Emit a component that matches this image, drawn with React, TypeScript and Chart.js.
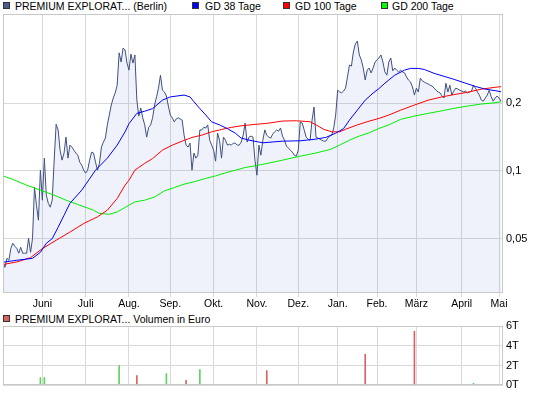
import React, { useEffect, useRef } from 'react';
import { Chart, registerables } from 'chart.js';

Chart.register(...registerables);

// ---------- DATA ----------
// trading-day index 0..253 (mid May .. start of May)
const closeValues = [
  0.0393, 0.0373, 0.0409, 0.0401, 0.0453, 0.0477, 0.0463, 0.0453, 0.0431, 0.0458,
  0.0431, 0.0431, 0.0431, 0.0502, 0.0435, 0.0502, 0.0846, 0.0704, 0.0604, 0.1007,
  0.0741, 0.1139, 0.0780, 0.0718, 0.0690, 0.0741, 0.1116, 0.161, 0.152, 0.1236,
  0.1116, 0.1199, 0.1412, 0.1139, 0.1301, 0.1275, 0.1236, 0.1199, 0.1174, 0.1093,
  0.1060, 0.1007, 0.0977, 0.1007, 0.1116, 0.1211, 0.1199, 0.1093, 0.1007, 0.1082,
  0.1275, 0.1342, 0.1398, 0.160, 0.177, 0.196, 0.2105, 0.222, 0.240, 0.334,
  0.304, 0.351, 0.344, 0.301, 0.280, 0.330, 0.301, 0.327, 0.206, 0.175,
  0.190, 0.172, 0.160, 0.1412, 0.156, 0.160, 0.172, 0.196, 0.213, 0.233,
  0.266, 0.228, 0.224, 0.215, 0.194, 0.177, 0.172, 0.165, 0.170, 0.172,
  0.170, 0.168, 0.1441, 0.1301, 0.1275, 0.1328, 0.1007, 0.1199, 0.1139, 0.1174,
  0.152, 0.152, 0.156, 0.155, 0.160, 0.1369, 0.1301, 0.1236, 0.1104, 0.1471,
  0.1369, 0.1139, 0.1412, 0.1369, 0.1301, 0.1314, 0.1301, 0.1328, 0.1328, 0.1301,
  0.1301, 0.1342, 0.1441, 0.163, 0.1342, 0.1412, 0.1427, 0.1412, 0.1116, 0.0957,
  0.1301, 0.1174, 0.1369, 0.152, 0.1441, 0.1412, 0.1398, 0.1456, 0.149, 0.152,
  0.150, 0.155, 0.1427, 0.1369, 0.1288, 0.1262, 0.1236, 0.1211, 0.1174, 0.1162,
  0.1236, 0.165, 0.163, 0.152, 0.1412, 0.1383, 0.1369, 0.168, 0.192, 0.1412,
  0.1398, 0.1383, 0.1369, 0.1355, 0.1355, 0.1398, 0.1427, 0.1441, 0.155, 0.177,
  0.228, 0.224, 0.222, 0.226, 0.233, 0.261, 0.295, 0.292, 0.337, 0.366,
  0.377, 0.327, 0.311, 0.286, 0.253, 0.280, 0.286, 0.272, 0.286, 0.304,
  0.311, 0.317, 0.327, 0.304, 0.275, 0.266, 0.304, 0.317, 0.278, 0.286,
  0.280, 0.275, 0.280, 0.275, 0.272, 0.261, 0.253, 0.248, 0.236, 0.217,
  0.233, 0.224, 0.258, 0.251, 0.248, 0.245, 0.243, 0.240, 0.238, 0.233,
  0.228, 0.224, 0.222, 0.215, 0.2105, 0.245, 0.224, 0.240, 0.217, 0.226,
  0.233, 0.231, 0.228, 0.226, 0.224, 0.226, 0.222, 0.224, 0.226, 0.240,
  0.233, 0.224, 0.217, 0.206, 0.204, 0.2105, 0.217, 0.228, 0.213, 0.204,
  0.2105, 0.215, 0.2105, 0.204,
];

const gd38Days = [0, 7, 15, 19, 22, 25, 28, 31, 34, 40, 47, 53, 58, 62, 64, 68, 72, 76, 81, 85, 92, 95, 97, 100, 103, 106, 110, 114, 118, 121, 125, 132, 142, 151, 158, 164, 169, 173, 176, 180, 184, 188, 191, 194, 199, 204, 207, 211, 214, 219, 224, 229, 235, 240, 245, 250, 253];
const gd38Values = [0.0393, 0.0401, 0.0409, 0.0435, 0.0477, 0.050, 0.0562, 0.0635, 0.0718, 0.0821, 0.1007, 0.1139, 0.1301, 0.149, 0.162, 0.180, 0.184, 0.189, 0.206, 0.213, 0.217, 0.213, 0.2027, 0.189, 0.177, 0.165, 0.160, 0.154, 0.147, 0.1398, 0.1369, 0.1332, 0.1355, 0.136, 0.138, 0.1408, 0.147, 0.154, 0.168, 0.186, 0.206, 0.2215, 0.232, 0.245, 0.266, 0.280, 0.285, 0.285, 0.282, 0.271, 0.263, 0.255, 0.245, 0.237, 0.2305, 0.227, 0.2245];

const gd100Days = [0, 7, 14, 20, 27, 34, 41, 48, 53, 58, 62, 64, 67, 72, 76, 81, 86, 91, 96, 101, 106, 111, 116, 121, 128, 134, 142, 149, 156, 159, 163, 167, 171, 174, 180, 185, 191, 196, 202, 209, 216, 223, 229, 236, 243, 250, 253];
const gd100Values = [0.0384, 0.0394, 0.0412, 0.0452, 0.0492, 0.0535, 0.0584, 0.0625, 0.0669, 0.0754, 0.0864, 0.0909, 0.1007, 0.108, 0.1134, 0.1236, 0.1301, 0.1355, 0.1407, 0.1441, 0.149, 0.1527, 0.156, 0.1585, 0.1608, 0.1625, 0.1664, 0.1669, 0.1652, 0.160, 0.1528, 0.149, 0.149, 0.153, 0.160, 0.1652, 0.171, 0.177, 0.186, 0.196, 0.206, 0.213, 0.218, 0.2233, 0.2305, 0.235, 0.2365];

const gd200Days = [0, 5, 12, 19, 26, 32, 39, 46, 49, 54, 58, 61, 64, 67, 72, 77, 82, 87, 92, 97, 103, 108, 113, 118, 123, 128, 134, 142, 151, 159, 166, 171, 176, 181, 186, 191, 196, 202, 209, 216, 223, 229, 236, 243, 250, 253];
const gd200Values = [0.0950, 0.0916, 0.0864, 0.0821, 0.0780, 0.0741, 0.0704, 0.0669, 0.0647, 0.0642, 0.0657, 0.068, 0.0704, 0.0728, 0.0741, 0.0766, 0.0815, 0.0843, 0.0873, 0.0894, 0.0926, 0.095, 0.098, 0.1007, 0.1035, 0.1052, 0.1078, 0.1116, 0.1162, 0.1201, 0.1243, 0.1301, 0.1369, 0.1427, 0.1476, 0.1543, 0.160, 0.1693, 0.175, 0.180, 0.1848, 0.1894, 0.194, 0.198, 0.2006, 0.2027];

const monthTickDays = [20, 42, 64, 85, 107, 129, 150, 170, 190, 210, 233, 252];
const monthTickLabels = ['Juni', 'Juli', 'Aug.', 'Sep.', 'Okt.', 'Nov.', 'Dez.', 'Jan.', 'Feb.', 'März', 'April', 'Mai'];
const priceTickValues = [0.05, 0.1, 0.2];

const volumeDays = [19, 21, 59, 68, 83, 93, 100, 134, 184, 209, 239];
const volumeValues = [800, 800, 2000, 1000, 1200, 500, 1600, 1500, 3130, 5450, 200];
const volumeUp = [true, true, true, false, true, false, true, false, false, false, true];
const volumeTickValues = [0, 2000, 4000, 6000];

const seriesLabels = ['PREMIUM EXPLORAT... (Berlin)', 'GD 38 Tage', 'GD 100 Tage', 'GD 200 Tage'];
const volumeLabel = 'PREMIUM EXPLORAT... Volumen in Euro';

// ---------- STYLE ----------
const FONT = '"Liberation Sans", Arial, Helvetica, sans-serif';
const GRID = '#d9d9d9';
const BORDER = '#c8c8c8';
const PRICE_COLOR = '#3f5080';
const COL38 = '#0000ff';
const COL100 = '#ff0000';
const COL200 = '#00ee00';
const UP = '#5fd35f';
const DOWN = '#d96464';
const X_MAX = 254;

const plotBorder = {
  id: 'plotBorder',
  afterDraw(chart: any) {
    const { ctx, chartArea: a } = chart;
    ctx.save();
    ctx.strokeStyle = BORDER;
    ctx.lineWidth = 1;
    ctx.strokeRect(Math.round(a.left) + 0.5, Math.round(a.top) + 0.5, Math.round(a.right - a.left) - 1, Math.round(a.bottom - a.top) - 1);
    ctx.restore();
  },
};

function xScale(showLabels: boolean) {
  return {
    type: 'linear' as const,
    min: 0,
    max: X_MAX,
    offset: false,
    afterBuildTicks: (s: any) => {
      s.ticks = monthTickDays.map((v) => ({ value: v }));
    },
    afterFit: (s: any) => {
      s.height = showLabels ? 19 : 0;
    },
    border: { display: false },
    grid: { color: GRID, drawTicks: showLabels, tickLength: 4, offset: false },
    ticks: {
      display: showLabels,
      autoSkip: false,
      maxRotation: 0,
      padding: 1,
      color: '#000',
      font: { family: FONT, size: 10.5 },
      callback: (_v: any, i: number) => monthTickLabels[i],
    },
  };
}

export default function App() {
  const mainRef = useRef<HTMLCanvasElement>(null);
  const volRef = useRef<HTMLCanvasElement>(null);

  useEffect(() => {
    const main = new Chart(mainRef.current!, {
      type: 'line',
      data: {
        datasets: [
          {
            label: seriesLabels[0],
            data: closeValues.map((v, i) => ({ x: i, y: v })),
            borderColor: PRICE_COLOR,
            borderWidth: 1,
            backgroundColor: 'rgba(100,130,210,0.10)',
            fill: 'start',
            pointRadius: 0,
            tension: 0,
            order: 4,
          },
          {
            label: seriesLabels[1],
            data: gd38Days.map((d, i) => ({ x: d, y: gd38Values[i] })),
            borderColor: COL38,
            borderWidth: 1,
            pointRadius: 0,
            fill: false,
            order: 1,
          },
          {
            label: seriesLabels[2],
            data: gd100Days.map((d, i) => ({ x: d, y: gd100Values[i] })),
            borderColor: COL100,
            borderWidth: 1,
            pointRadius: 0,
            fill: false,
            order: 2,
          },
          {
            label: seriesLabels[3],
            data: gd200Days.map((d, i) => ({ x: d, y: gd200Values[i] })),
            borderColor: COL200,
            borderWidth: 1,
            pointRadius: 0,
            fill: false,
            order: 3,
          },
        ],
      },
      options: {
        animation: false,
        responsive: false,
        devicePixelRatio: 1,
        events: [],
        layout: { padding: { left: 3, top: 14, right: 0, bottom: 0 } },
        plugins: { legend: { display: false }, tooltip: { enabled: false } },
        scales: {
          x: xScale(true) as any,
          y: {
            type: 'logarithmic',
            position: 'right',
            min: 0.0287,
            max: 0.497,
            afterBuildTicks: (s: any) => {
              s.ticks = priceTickValues.map((v) => ({ value: v }));
            },
            afterFit: (s: any) => {
              s.width = 42;
            },
            border: { display: false },
            grid: { color: GRID, drawTicks: false },
            ticks: {
              padding: 3,
              color: '#000',
              font: { family: FONT, size: 11 },
              callback: (v: any) => String(v).replace('.', ','),
            },
          } as any,
        },
      },
      plugins: [plotBorder],
    });

    const vol = new Chart(volRef.current!, {
      type: 'bar',
      data: {
        datasets: [
          {
            label: volumeLabel,
            data: volumeDays.map((d, i) => ({ x: d, y: volumeValues[i] })) as any,
            backgroundColor: volumeUp.map((u) => (u ? UP : DOWN)),
            barThickness: 1,
            borderWidth: 0,
          },
        ],
      },
      options: {
        animation: false,
        responsive: false,
        devicePixelRatio: 1,
        events: [],
        layout: { padding: { left: 3, top: 14, right: 0, bottom: 9 } },
        plugins: { legend: { display: false }, tooltip: { enabled: false } },
        scales: {
          x: xScale(false) as any,
          y: {
            type: 'linear',
            position: 'right',
            min: 0,
            max: 6000,
            afterBuildTicks: (s: any) => {
              s.ticks = volumeTickValues.map((v) => ({ value: v }));
            },
            afterFit: (s: any) => {
              s.width = 42;
            },
            border: { display: false },
            grid: { color: GRID, drawTicks: false },
            ticks: {
              padding: 3,
              color: '#000',
              font: { family: FONT, size: 11 },
              callback: (v: any) => `${Number(v) / 1000}T`,
            },
          } as any,
        },
      },
      plugins: [plotBorder],
    });

    return () => {
      main.destroy();
      vol.destroy();
    };
  }, []);

  const legendBoxes = [
    { color: '#4b5d8c', box: 3, text: 15 },
    { color: COL38, box: 192, text: 205 },
    { color: COL100, box: 283, text: 295 },
    { color: '#00ff00', box: 381, text: 392 },
  ];

  const textStyle: React.CSSProperties = {
    position: 'absolute',
    fontFamily: FONT,
    fontSize: 10.5,
    lineHeight: '12px',
    color: '#000',
    whiteSpace: 'nowrap',
  };
  const boxStyle = (left: number, top: number, color: string): React.CSSProperties => ({
    position: 'absolute',
    left,
    top,
    width: 7,
    height: 7,
    boxSizing: 'border-box',
    border: '1px solid #333',
    background: color,
  });

  return (
    <div style={{ position: 'absolute', left: 0, top: 0, width: 545, height: 395, background: '#fff', overflow: 'hidden' }}>
      {legendBoxes.map((b, i) => (
        <React.Fragment key={i}>
          <div style={boxStyle(b.box, 2, b.color)} />
          <div style={{ ...textStyle, left: b.text, top: 0 }}>{seriesLabels[i]}</div>
        </React.Fragment>
      ))}
      <canvas ref={mainRef} width={545} height={312} style={{ position: 'absolute', left: 0, top: 0 }} />
      <div style={boxStyle(3, 315, '#d9625f')} />
      <div style={{ ...textStyle, left: 15, top: 313 }}>{volumeLabel}</div>
      <canvas ref={volRef} width={545} height={83} style={{ position: 'absolute', left: 0, top: 312 }} />
    </div>
  );
}
